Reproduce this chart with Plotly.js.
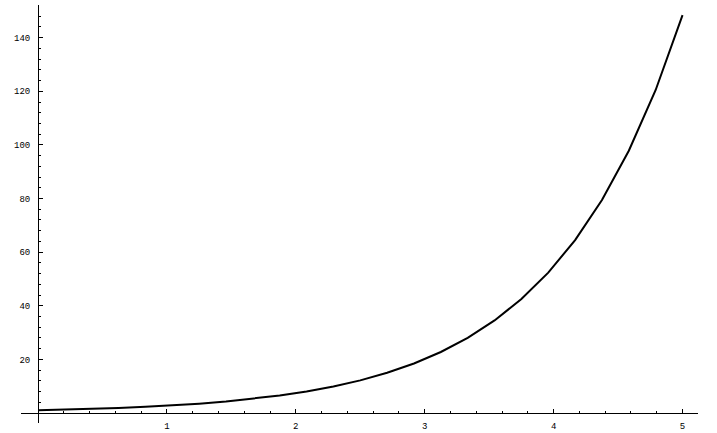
<!DOCTYPE html>
<html>
<head>
<meta charset="utf-8">
<script src="https://cdn.plot.ly/plotly-3.0.1.min.js"></script>
<style>html,body{margin:0;padding:0;background:#fff;}#chart{width:717px;height:433px;}</style>
</head>
<body>
<div id="chart"></div>
<script>
// Sample points (Mathematica-style sampling, 25 points)
const xValues = [0, 0.2083, 0.4167, 0.625, 0.8333, 1.0417, 1.25, 1.4583, 1.6667, 1.875,
  2.0833, 2.2917, 2.5, 2.7083, 2.9167, 3.125, 3.3333, 3.5417, 3.75, 3.9583,
  4.1667, 4.375, 4.5833, 4.7917, 5];
const yValues = [1.0, 1.23, 1.52, 1.87, 2.3, 2.83, 3.49, 4.3, 5.29, 6.52,
  8.03, 9.89, 12.18, 15.0, 18.48, 22.76, 28.03, 34.52, 42.52, 52.37,
  64.5, 79.45, 97.85, 120.5, 148.4];
const xTickVals = [1, 2, 3, 4, 5];
const xTickText = ["1", "2", "3", "4", "5"];
const yTickVals = [20, 40, 60, 80, 100, 120, 140];
const yTickText = ["20", "40", "60", "80", "100", "120", "140"];

const xRange = [-0.132, 5.12];
const yRange = [-3.73, 152.2];

const tickFont = {family: "Liberation Mono, DejaVu Sans Mono, monospace", size: 9, color: "#000"};

Plotly.newPlot("chart", [{
  x: xValues, y: yValues, type: "scatter", mode: "lines",
  line: {color: "#000", width: 2}, hoverinfo: "skip"
}], {
  width: 717, height: 433,
  margin: {l: 21, r: 19, t: 5, b: 10},
  paper_bgcolor: "#fff", plot_bgcolor: "#fff",
  showlegend: false,
  xaxis: {
    range: xRange, showgrid: false, zeroline: false,
    showline: true, linecolor: "#000", linewidth: 1,
    anchor: "free", position: (0 - yRange[0]) / (yRange[1] - yRange[0]),
    tickmode: "array", tickvals: xTickVals, ticktext: xTickText,
    ticks: "inside", ticklen: 4, tickwidth: 1, tickcolor: "#000",
    minor: {tickmode: "linear", tick0: 0, dtick: 0.2, ticks: "inside", ticklen: 2, tickwidth: 1, tickcolor: "#000"},
    tickfont: tickFont, ticklabelstandoff: 4
  },
  yaxis: {
    range: yRange, showgrid: false, zeroline: false,
    showline: true, linecolor: "#000", linewidth: 1,
    anchor: "free", position: (0 - xRange[0]) / (xRange[1] - xRange[0]),
    tickmode: "array", tickvals: yTickVals, ticktext: yTickText,
    ticks: "inside", ticklen: 4, tickwidth: 1, tickcolor: "#000",
    minor: {tickmode: "linear", tick0: 0, dtick: 4, ticks: "inside", ticklen: 2, tickwidth: 1, tickcolor: "#000"},
    tickfont: tickFont, ticklabelstandoff: 6
  }
}, {staticPlot: true});
</script>
</body>
</html>
